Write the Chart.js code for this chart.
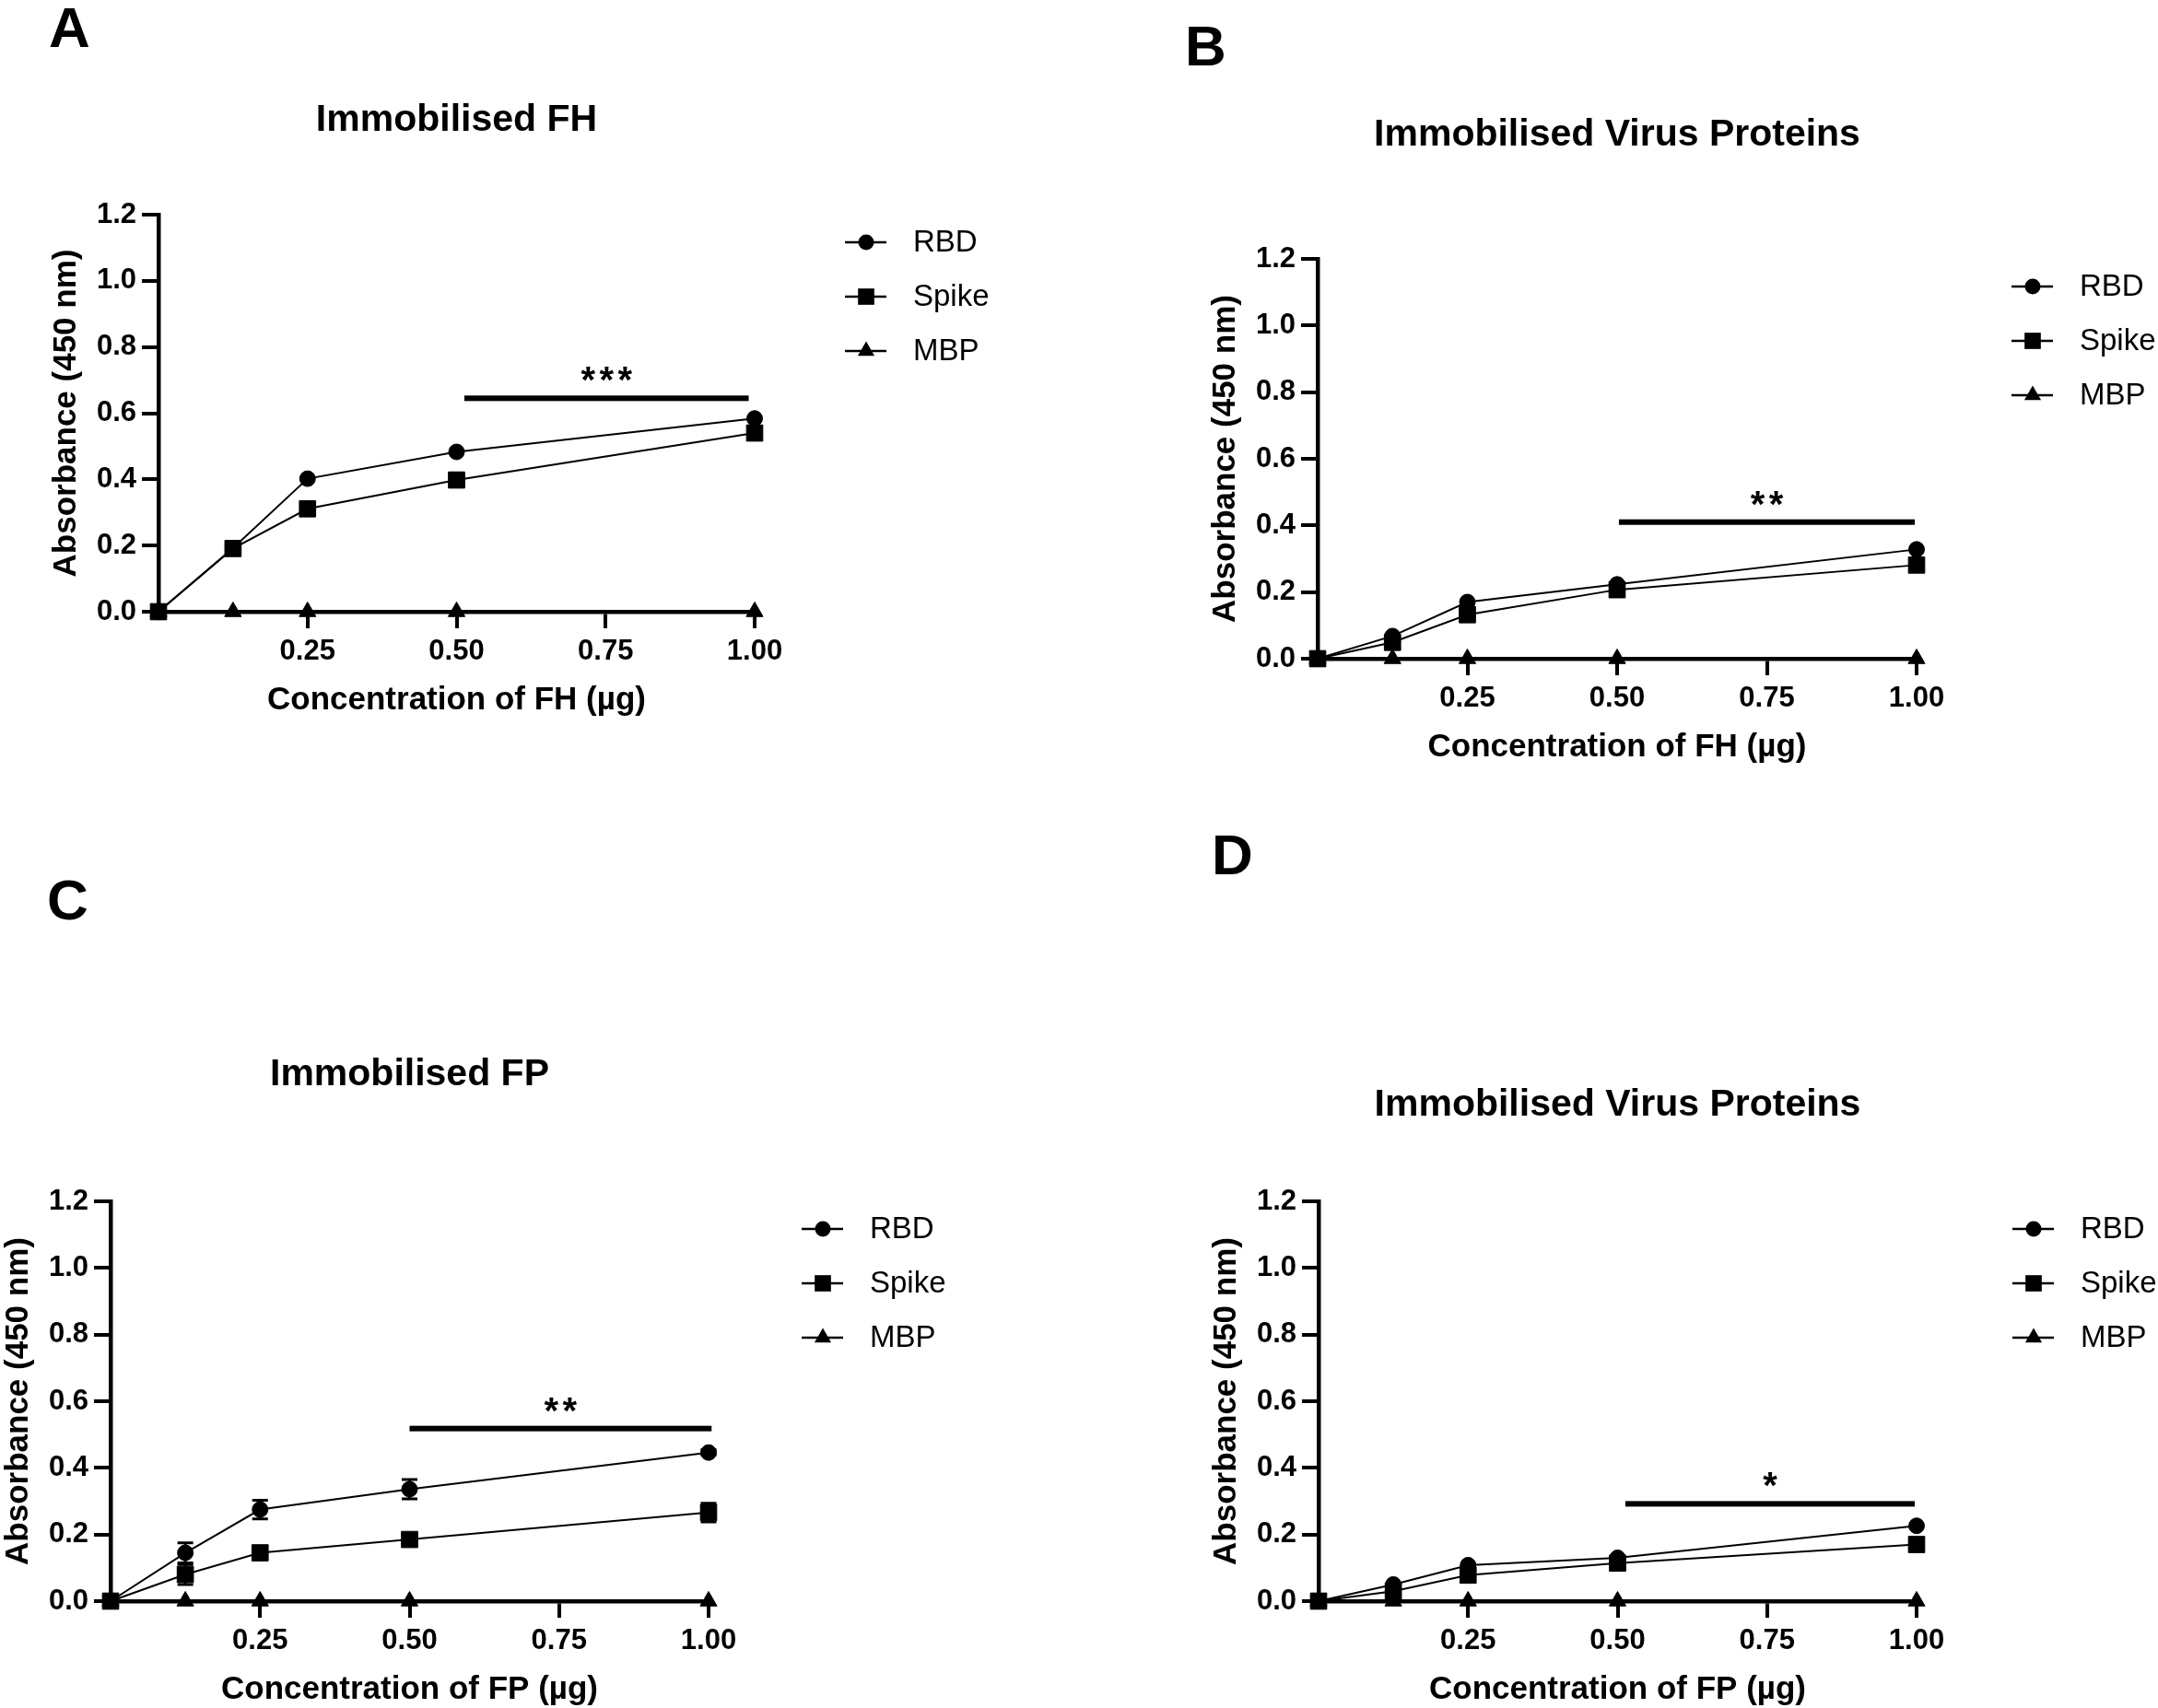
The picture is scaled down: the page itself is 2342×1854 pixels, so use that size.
<!DOCTYPE html>
<html>
<head>
<meta charset="utf-8">
<script src="https://cdn.jsdelivr.net/npm/chart.js@4.4.0/dist/chart.umd.min.js"></script>
<style>
html, body { margin:0; padding:0; background:#fff; width:2342px; height:1854px; overflow:hidden; }
body { position:relative; }
canvas { position:absolute; }
</style>
</head>
<body>
<canvas id="cA"></canvas>
<canvas id="cB"></canvas>
<canvas id="cC"></canvas>
<canvas id="cD"></canvas>
<script>
// ---------- data ----------
const concentrations = [0, 0.125, 0.25, 0.5, 1.0];
const seriesNames = ['RBD', 'Spike', 'MBP'];
const xTickValues = [0.25, 0.5, 0.75, 1.0];
const yTickValues = [0, 0.2, 0.4, 0.6, 0.8, 1.0, 1.2];

// Panel A: Immobilised FH
const aRBD   = [0, 0.192, 0.402, 0.483, 0.584];
const aSpike = [0, 0.191, 0.311, 0.398, 0.540];
const aMBP   = [0, 0, 0, 0, 0];
const aSig   = [0.513, 0.99, 0.645];
const aStars = 3;

// Panel B: Immobilised Virus Proteins (FH)
const bRBD   = [0, 0.068, 0.170, 0.223, 0.328];
const bSpike = [0, 0.049, 0.132, 0.207, 0.281];
const bMBP   = [0, 0, 0, 0, 0];
const bSig   = [0.503, 0.997, 0.41];
const bStars = 2;

// Panel C: Immobilised FP
const cRBD      = [0, 0.145, 0.275, 0.336, 0.446];
const cRBDErr   = [0, 0.03, 0.028, 0.029, 0.008];
const cSpike    = [0, 0.080, 0.145, 0.185, 0.266];
const cSpikeErr = [0, 0.03, 0.01, 0.01, 0.028];
const cMBP      = [0, 0, 0, 0, 0];
const cSig      = [0.5, 1.005, 0.518];
const cStars    = 2;

// Panel D: Immobilised Virus Proteins (FP)
const dRBD   = [0, 0.050, 0.108, 0.130, 0.226];
const dSpike = [0, 0.030, 0.078, 0.114, 0.170];
const dMBP   = [0, 0, 0, 0, 0];
const dSig   = [0.513, 0.997, 0.292];
const dStars = 1;

// ---------- rendering ----------
const FAM = '"Liberation Sans", Arial, Helvetica, sans-serif';

function ds(label, values, style, radius, errs) {
  return {
    label: label,
    data: concentrations.map((c, i) => ({ x: c, y: values[i] })),
    errors: errs || null,
    pointStyle: style,
    pointRadius: radius,
    pointHoverRadius: radius,
    pointBackgroundColor: '#000',
    pointBorderColor: '#000',
    pointBorderWidth: 1,
    borderColor: '#000',
    backgroundColor: '#000',
    borderWidth: 2,
    tension: 0,
    clip: false
  };
}

function drawMarker(ctx, style, r, x, y) {
  ctx.beginPath();
  if (style === 'circle') {
    ctx.arc(x, y, r, 0, Math.PI * 2);
  } else if (style === 'rect') {
    const s = Math.SQRT1_2 * r;
    ctx.rect(x - s, y - s, 2 * s, 2 * s);
  } else if (style === 'triangle') {
    ctx.moveTo(x, y - r);
    ctx.lineTo(x + Math.sin(2 * Math.PI / 3) * r, y + r / 2);
    ctx.lineTo(x - Math.sin(2 * Math.PI / 3) * r, y + r / 2);
    ctx.closePath();
  }
  ctx.fill();
}

const decorPlugin = {
  id: 'panelDecor',
  afterDatasetsDraw(chart, args, o) {
    const { ctx, scales: { x, y } } = chart;
    ctx.save();
    ctx.strokeStyle = '#000';
    ctx.lineWidth = 3;
    chart.data.datasets.forEach(d => {
      if (!d.errors) return;
      d.data.forEach((p, i) => {
        const e = d.errors[i];
        if (!e) return;
        const px = x.getPixelForValue(p.x);
        const y1 = y.getPixelForValue(p.y + e), y2 = y.getPixelForValue(p.y - e);
        ctx.beginPath();
        ctx.moveTo(px, y1); ctx.lineTo(px, y2);
        ctx.moveTo(px - 8.5, y1); ctx.lineTo(px + 8.5, y1);
        ctx.moveTo(px - 8.5, y2); ctx.lineTo(px + 8.5, y2);
        ctx.stroke();
      });
    });
    ctx.restore();
  },
  afterDraw(chart, args, o) {
    const { ctx, chartArea: ca, scales: { x, y } } = chart;
    ctx.save();
    ctx.fillStyle = '#000';
    // panel letter
    ctx.font = 'bold 62px ' + FAM;
    ctx.textAlign = 'left';
    ctx.textBaseline = 'alphabetic';
    ctx.fillText(o.letter, o.letterX, o.letterY);
    // title
    ctx.font = 'bold 41px ' + FAM;
    ctx.textAlign = 'center';
    ctx.textBaseline = 'middle';
    ctx.fillText(o.title, (ca.left + ca.right) / 2, ca.top + o.titleDy);
    // significance bar
    const sx1 = x.getPixelForValue(o.sig[0]);
    const sx2 = x.getPixelForValue(o.sig[1]);
    const sy = y.getPixelForValue(o.sig[2]);
    ctx.fillRect(sx1, sy - 3, sx2 - sx1, 6);
    ctx.font = 'bold 40px ' + FAM;
    ctx.textAlign = 'center';
    ctx.textBaseline = 'alphabetic';
    const m = ctx.measureText('*');
    const starCY = sy - 26;
    const base = starCY + (m.actualBoundingBoxAscent - m.actualBoundingBoxDescent) / 2;
    const gap = 20;
    const cxm = (sx1 + sx2) / 2;
    for (let k = 0; k < o.stars; k++) {
      const sxk = cxm + (k - (o.stars - 1) / 2) * gap;
      ctx.fillText('*', sxk, base);
    }
    // legend
    const mx = ca.right + o.legendDx;
    chart.data.datasets.forEach((d, i) => {
      const ry = ca.top + 30 + i * 59;
      ctx.strokeStyle = '#000';
      ctx.lineWidth = 2.5;
      ctx.beginPath();
      ctx.moveTo(mx - 23, ry); ctx.lineTo(mx + 22, ry);
      ctx.stroke();
      drawMarker(ctx, d.pointStyle, d.pointRadius, mx, ry);
      ctx.font = '33px ' + FAM;
      ctx.textAlign = 'left';
      ctx.textBaseline = 'middle';
      ctx.fillText(d.label, mx + 51, ry + 1);
    });
    ctx.restore();
  }
};

const Y_AXIS_W = 121;
const X_AXIS_H = 117;

function makePanel(id, canvasRect, area, datasets, deco, xTitle) {
  const [cx, cy, cw, ch] = canvasRect;
  const [l, t, r, b] = area;
  const cv = document.getElementById(id);
  cv.style.left = cx + 'px';
  cv.style.top = cy + 'px';
  cv.width = cw; cv.height = ch;
  cv.style.width = cw + 'px';
  cv.style.height = ch + 'px';
  const tickFont = { family: FAM, size: 31, weight: 'bold' };
  const titleFont = { family: FAM, size: 35, weight: 'bold' };
  const grid = { display: true, drawOnChartArea: false, drawTicks: true, tickLength: 18,
                 tickWidth: 4, tickColor: '#000', color: '#000', lineWidth: 4 };
  const border = { display: true, color: '#000', width: 4.5 };
  new Chart(cv, {
    type: 'line',
    data: { datasets: datasets },
    plugins: [decorPlugin],
    options: {
      responsive: false,
      animation: false,
      devicePixelRatio: 1,
      layout: { padding: { left: l - Y_AXIS_W - cx, top: t - cy, right: cx + cw - r, bottom: cy + ch - b - X_AXIS_H } },
      plugins: { legend: { display: false }, title: { display: false }, tooltip: { enabled: false }, panelDecor: deco },
      scales: {
        x: {
          type: 'linear', min: 0, max: 1,
          afterBuildTicks: s => { s.ticks = xTickValues.map(v => ({ value: v })); },
          afterFit: s => { s.height = X_AXIS_H; },
          ticks: { callback: v => Number(v).toFixed(2), font: tickFont, color: '#000', padding: 7, maxRotation: 0, autoSkip: false },
          grid: grid, border: border,
          title: { display: true, text: xTitle, font: titleFont, color: '#000', padding: 0 }
        },
        y: {
          type: 'linear', min: 0, max: 1.2,
          afterBuildTicks: s => { s.ticks = yTickValues.map(v => ({ value: v })); },
          afterFit: s => { s.width = Y_AXIS_W; },
          ticks: { callback: v => Number(v).toFixed(1), font: tickFont, color: '#000', padding: 6, autoSkip: false },
          grid: grid, border: border,
          title: { display: true, text: 'Absorbance (450 nm)', font: titleFont, color: '#000', padding: 0 }
        }
      }
    }
  });
}

function sets(rbd, spike, mbp, rbdErr, spikeErr) {
  return [
    ds(seriesNames[0], rbd, 'circle', 8.5, rbdErr),
    ds(seriesNames[1], spike, 'rect', 12.5, spikeErr),
    ds(seriesNames[2], mbp, 'triangle', 10.5, null)
  ];
}

makePanel('cA', [0, 0, 1171, 900], [172, 233, 819, 664], sets(aRBD, aSpike, aMBP),
  { letter: 'A', letterX: 53, letterY: 51, title: 'Immobilised FH', titleDy: -102, sig: aSig, stars: aStars, legendDx: 121 },
  'Concentration of FH (µg)');
makePanel('cB', [1171, 0, 1171, 900], [1430, 281, 2080, 715], sets(bRBD, bSpike, bMBP),
  { letter: 'B', letterX: 1286 - 1171, letterY: 71, title: 'Immobilised Virus Proteins', titleDy: -134, sig: bSig, stars: bStars, legendDx: 126 },
  'Concentration of FH (µg)');
makePanel('cC', [0, 900, 1171, 954], [120, 1304, 769, 1738], sets(cRBD, cSpike, cMBP, cRBDErr, cSpikeErr),
  { letter: 'C', letterX: 51, letterY: 998 - 900, title: 'Immobilised FP', titleDy: -137, sig: cSig, stars: cStars, legendDx: 124 },
  'Concentration of FP (µg)');
makePanel('cD', [1171, 900, 1171, 954], [1431, 1304, 2080, 1738], sets(dRBD, dSpike, dMBP),
  { letter: 'D', letterX: 1315 - 1171, letterY: 949 - 900, title: 'Immobilised Virus Proteins', titleDy: -104, sig: dSig, stars: dStars, legendDx: 127 },
  'Concentration of FP (µg)');
</script>
</body>
</html>
